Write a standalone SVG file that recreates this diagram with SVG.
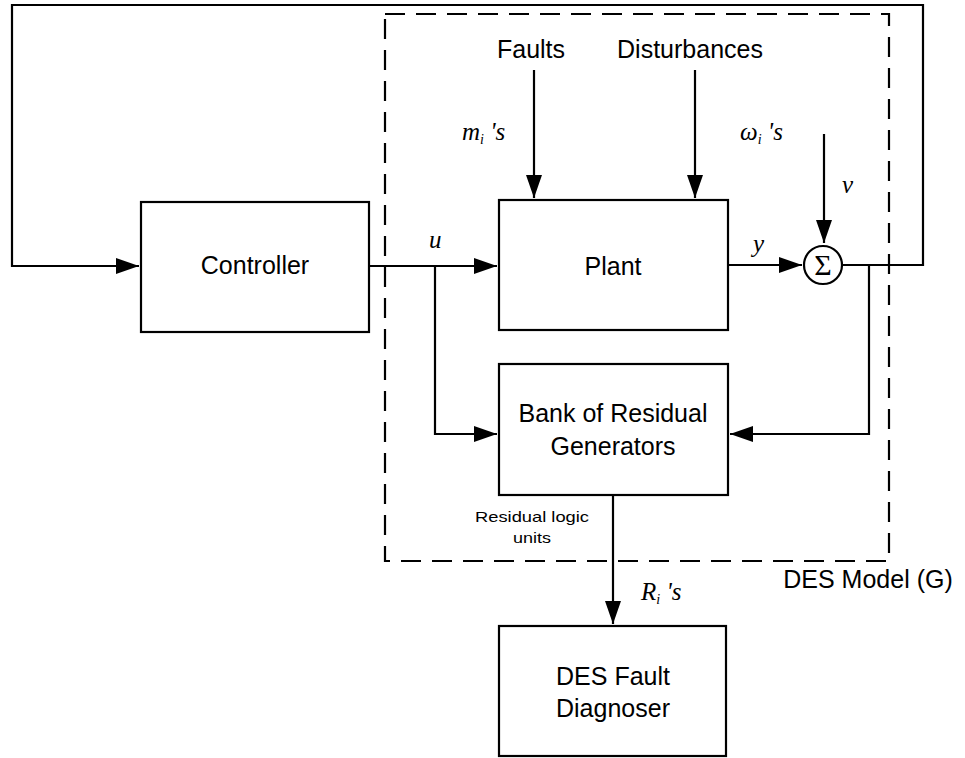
<svg xmlns="http://www.w3.org/2000/svg" width="965" height="758" viewBox="0 0 965 758">
<style>
.box{fill:#fff;stroke:#000;stroke-width:2.2}
.ln{fill:none;stroke:#000;stroke-width:2.2}
.dash{fill:none;stroke:#000;stroke-width:2.2;stroke-dasharray:20 11}
.t{font-family:"Liberation Sans",Arial,sans-serif;font-size:25px;fill:#000;text-anchor:middle}
.s{font-family:"Liberation Sans",Arial,sans-serif;font-size:15px;fill:#000;text-anchor:middle}
.m{font-family:"Liberation Serif","Times New Roman",serif;font-style:italic;font-size:25px;fill:#000}
.sub{font-size:14px}
</style>
<defs>
<marker id="ah" markerUnits="userSpaceOnUse" markerWidth="24" markerHeight="18" refX="23" refY="8" orient="auto">
<path d="M0,0 L23,8 L0,16 z" fill="#000"/>
</marker>
</defs>
<rect x="0" y="0" width="965" height="758" fill="#fff"/>
<g id="des-model-boundary">
<rect class="dash" x="385" y="14" width="504" height="547"/>
<text class="t" x="868" y="588" font-size="26">DES Model (G)</text>
</g>
<g id="connectors">
<polyline class="ln" points="842,265 923,265 923,5 12,5 12,266 139,266" marker-end="url(#ah)"/>
<polyline class="ln" points="369,266 497,266" marker-end="url(#ah)"/>
<polyline class="ln" points="435,266 435,434 497,434" marker-end="url(#ah)"/>
<polyline class="ln" points="534,70 534,198" marker-end="url(#ah)"/>
<polyline class="ln" points="695,70 695,198" marker-end="url(#ah)"/>
<polyline class="ln" points="728,265 802,265" marker-end="url(#ah)"/>
<polyline class="ln" points="824,134 824,243" marker-end="url(#ah)"/>
<polyline class="ln" points="869,265 869,434 730,434" marker-end="url(#ah)"/>
<polyline class="ln" points="613,495 613,624" marker-end="url(#ah)"/>
<text class="m" x="429" y="248">u</text>
<text class="m" x="753" y="252">y</text>
<text class="m" x="842" y="193">v</text>
<text class="m" x="462" y="140">m<tspan class="sub" dy="4">i</tspan><tspan dy="-4"> 's</tspan></text>
<text class="m" x="740" y="140">ω<tspan class="sub" dy="4">i</tspan><tspan dy="-4"> 's</tspan></text>
<text class="m" x="641" y="600">R<tspan class="sub" dy="4">i</tspan><tspan dy="-4"> 's</tspan></text>
<text class="s" x="532" y="522" textLength="114" lengthAdjust="spacingAndGlyphs">Residual logic</text>
<text class="s" x="532" y="543" textLength="38" lengthAdjust="spacingAndGlyphs">units</text>
</g>
<g id="faults">
<text class="t" x="531" y="58">Faults</text>
</g>
<g id="disturbances">
<text class="t" x="690" y="58">Disturbances</text>
</g>
<g id="controller">
<rect class="box" x="141" y="202" width="228" height="130"/>
<text class="t" x="255" y="274" font-size="26">Controller</text>
</g>
<g id="plant">
<rect class="box" x="499" y="200" width="229" height="130"/>
<text class="t" x="613" y="275">Plant</text>
</g>
<g id="summing-junction">
<circle cx="823" cy="265" r="19" fill="#fff" stroke="#000" stroke-width="2.2"/>
<text x="823" y="275" font-family="Liberation Serif,serif" font-size="30" text-anchor="middle">Σ</text>
</g>
<g id="residual-generators">
<rect class="box" x="499" y="364" width="229" height="131"/>
<text class="t" x="613" y="422">Bank of Residual</text>
<text class="t" x="613" y="455">Generators</text>
</g>
<g id="fault-diagnoser">
<rect class="box" x="499" y="626" width="227" height="130"/>
<text class="t" x="613" y="685">DES Fault</text>
<text class="t" x="613" y="717">Diagnoser</text>
</g>
</svg>
